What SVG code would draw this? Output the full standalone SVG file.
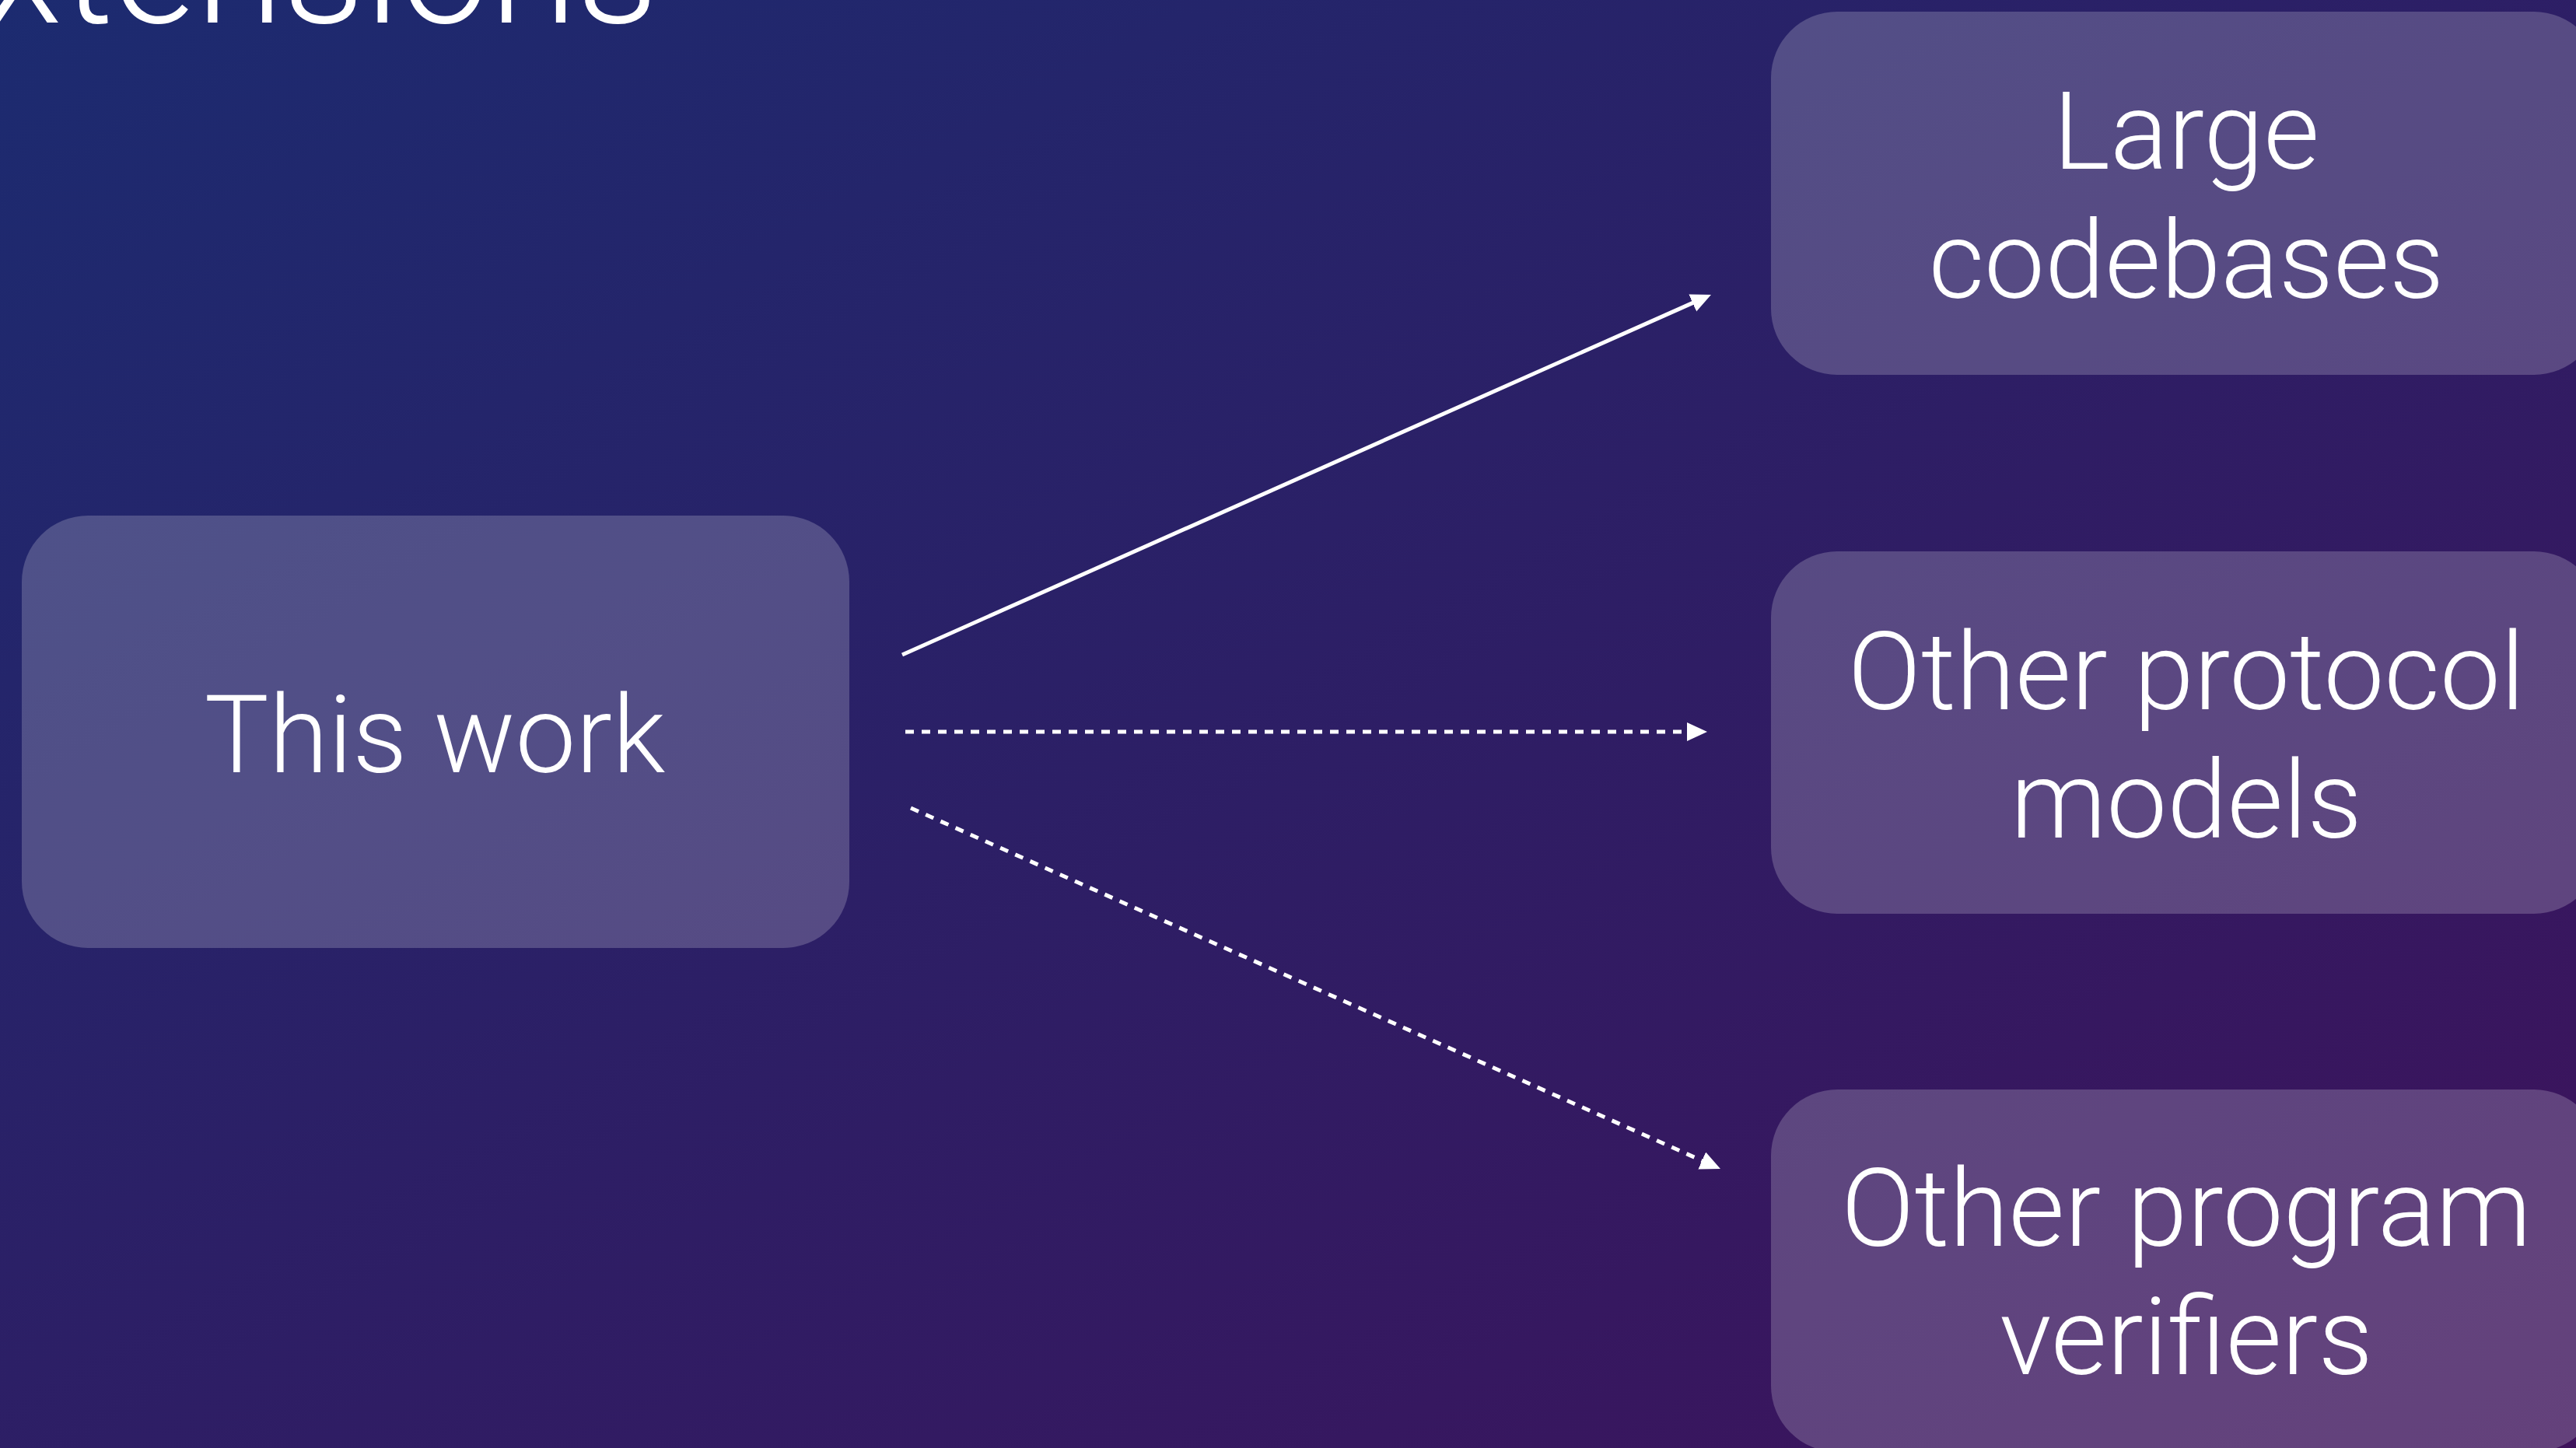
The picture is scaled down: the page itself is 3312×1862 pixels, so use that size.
<svg xmlns="http://www.w3.org/2000/svg" width="3312" height="1862" viewBox="0 0 3312 1862">
<defs>
<linearGradient id="bg" x1="0" y1="0" x2="1" y2="1">
<stop offset="0" stop-color="#1c2b70"/>
<stop offset="1" stop-color="#3e125b"/>
</linearGradient>
<marker id="ah" markerUnits="userSpaceOnUse" markerWidth="30" markerHeight="26" refX="6" refY="12" orient="auto">
<path d="M0,0 L26,12 L0,24 z" fill="#ffffff"/>
</marker>
<style>
.box{fill:#ffffff;fill-opacity:0.2}
.lbl{font-family:Roboto,"Open Sans","Liberation Sans",sans-serif;font-weight:300;font-size:139px;fill:#ffffff;text-anchor:middle}
.title{font-family:Roboto,"Open Sans","Liberation Sans",sans-serif;font-weight:300;font-size:205px;fill:#ffffff;text-anchor:end}
.conn{stroke:#ffffff;stroke-width:5;fill:none;marker-end:url(#ah)}
.dash{stroke-dasharray:11 10}
</style>
</defs>
<rect x="0" y="0" width="3312" height="1862" fill="url(#bg)"/>
<text class="title" x="846" y="29">Extensions</text>
<g id="this-work">
<rect class="box" x="28" y="663" width="1064" height="556" rx="85" ry="85"/>
<text class="lbl" x="559" y="993">This work</text>
</g>
<g id="large-codebases">
<rect class="box" x="2277" y="15" width="1066" height="467" rx="85" ry="85"/>
<text class="lbl" x="2811" y="217">Large</text>
<text class="lbl" x="2811" y="383">codebases</text>
</g>
<g id="other-protocol-models">
<rect class="box" x="2277" y="709" width="1066" height="466" rx="85" ry="85"/>
<text class="lbl" x="2811" y="912">Other protocol</text>
<text class="lbl" x="2811" y="1077">models</text>
</g>
<g id="other-program-verifiers">
<rect class="box" x="2277" y="1401" width="1066" height="466" rx="85" ry="85"/>
<text class="lbl" x="2811" y="1602">Other program</text>
<text class="lbl" x="2811" y="1767">verifiers</text>
</g>
<g id="connectors">
<line class="conn" x1="1160" y1="842" x2="2181.7" y2="387.1"/>
<line class="conn dash" x1="1164" y1="941" x2="2175" y2="941"/>
<line class="conn dash" x1="1171" y1="1039" x2="2193.7" y2="1494.9"/>
</g>
</svg>
